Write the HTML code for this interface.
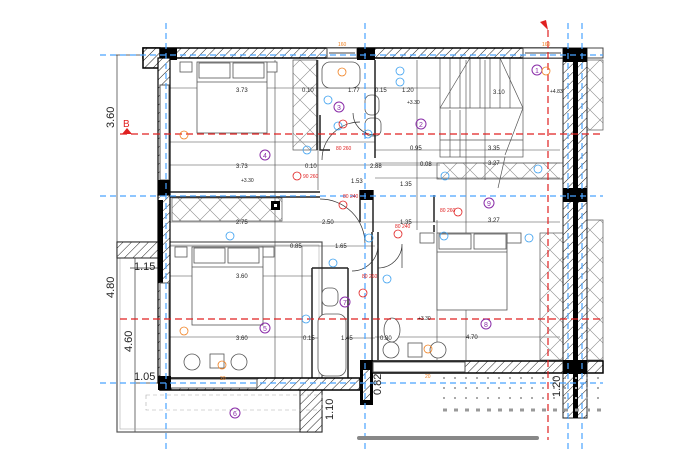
<!DOCTYPE html>
<html><head><meta charset="utf-8"><style>
html,body{margin:0;padding:0;background:#fff;}
svg{display:block;font-family:"Liberation Sans",sans-serif;}
</style></head><body>
<svg width="700" height="467" viewBox="0 0 700 467" xmlns="http://www.w3.org/2000/svg">
<defs>
<pattern id="h" width="6" height="6" patternUnits="userSpaceOnUse" patternTransform="rotate(45)">
<rect width="6" height="6" fill="#fff"/><line x1="0" y1="0" x2="0" y2="6" stroke="#222" stroke-width="1"/></pattern>
<pattern id="x" width="20" height="20" patternUnits="userSpaceOnUse">
<path d="M0 0L20 20M20 0L0 20" stroke="#888" stroke-width="0.6"/></pattern>
</defs>
<rect width="700" height="467" fill="#fff"/>
<!-- outer dims left -->
<g stroke="#333" stroke-width="0.7" fill="none">
<line x1="117" y1="55" x2="117" y2="196"/>
<line x1="117" y1="196" x2="117" y2="383"/>
<line x1="135" y1="258" x2="135" y2="432"/>
<line x1="110" y1="55" x2="160" y2="55"/>
<line x1="130" y1="268" x2="160" y2="268"/>
<line x1="130" y1="383" x2="160" y2="383"/>
</g>
<!-- left balcony -->
<rect x="117" y="242" width="205" height="190" fill="none" stroke="#555" stroke-width="1.2"/>
<rect x="120" y="245" width="199" height="184" fill="none" stroke="#aaa" stroke-width="0.6"/>
<rect x="117" y="242" width="45" height="16" fill="url(#h)" stroke="#222"/>
<rect x="300" y="385" width="22" height="47" fill="url(#h)" stroke="#222"/>
<rect x="146" y="395" width="176" height="15" fill="none" stroke="#aaa" stroke-dasharray="4 3" stroke-width="0.6"/>
<!-- interior grid lines -->
<g stroke="#444" stroke-width="0.6">
<line x1="170" y1="88" x2="440" y2="88"/>
<line x1="170" y1="165" x2="440" y2="165"/>
<line x1="170" y1="142" x2="375" y2="142"/>
<line x1="375" y1="150" x2="560" y2="150"/>
<line x1="375" y1="163" x2="560" y2="163"/>
<line x1="170" y1="222" x2="560" y2="222"/>
<line x1="170" y1="246" x2="375" y2="246"/>
<line x1="170" y1="276" x2="312" y2="276"/>
<line x1="170" y1="337" x2="312" y2="337"/>
<line x1="312" y1="338" x2="375" y2="338"/>
<line x1="375" y1="337" x2="560" y2="337"/>
<line x1="375" y1="178" x2="560" y2="178"/>
<line x1="275" y1="60" x2="275" y2="380"/>
<line x1="302" y1="246" x2="302" y2="378"/>
<line x1="318" y1="60" x2="318" y2="190"/>
<line x1="417" y1="60" x2="417" y2="230"/>
<line x1="466" y1="60" x2="466" y2="360"/>
<line x1="485" y1="60" x2="485" y2="180"/>
<line x1="437" y1="220" x2="437" y2="360"/>
</g>
<!-- stairs -->
<g stroke="#555" stroke-width="0.7" fill="none">
<rect x="440" y="58" width="83" height="99"/>
<line x1="440" y1="108" x2="523" y2="108"/>
<path d="M450 58V108M460 58V108M470 58V108M480 58V108M490 58V108M500 58V108M510 58V108"/>
<path d="M440 108L470 58M523 108L500 58M523 108L505 155M505 157L498 188"/>
<path d="M440 140H523M450 110V157M460 110V157"/>
</g>
<!-- wardrobes -->
<rect x="293" y="60" width="24" height="90" fill="url(#x)" stroke="#555" stroke-width="0.7"/>
<rect x="172" y="198" width="110" height="23" fill="url(#x)" stroke="#555" stroke-width="0.7"/>
<rect x="437" y="163" width="126" height="16" fill="url(#x)" stroke="#555" stroke-width="0.7"/>
<rect x="540" y="233" width="23" height="127" fill="url(#x)" stroke="#555" stroke-width="0.7"/>
<rect x="587" y="220" width="16" height="140" fill="url(#x)" stroke="#555" stroke-width="0.7"/>
<rect x="587" y="60" width="16" height="70" fill="url(#x)" stroke="#555" stroke-width="0.7"/>
<rect x="271" y="201" width="9" height="9" fill="#000"/><rect x="274" y="204" width="3" height="3" fill="#fff"/>
<!-- beds -->
<g stroke="#555" stroke-width="0.8" fill="#fff">
<rect x="180" y="62" width="12" height="10"/><rect x="265" y="62" width="12" height="10"/>
<rect x="197" y="62" width="70" height="71"/>
<rect x="199" y="63" width="31" height="15"/><rect x="233" y="63" width="31" height="15"/>
<line x1="197" y1="82" x2="267" y2="82"/>
<rect x="175" y="247" width="12" height="10"/><rect x="262" y="247" width="12" height="10"/>
<rect x="192" y="247" width="71" height="78"/>
<rect x="194" y="248" width="31" height="15"/><rect x="228" y="248" width="31" height="15"/>
<line x1="192" y1="267" x2="263" y2="267"/>
<rect x="420" y="233" width="14" height="10"/><rect x="507" y="233" width="14" height="10"/>
<rect x="437" y="233" width="70" height="77"/>
<rect x="439" y="234" width="32" height="15"/><rect x="474" y="234" width="32" height="15"/>
<line x1="437" y1="252" x2="507" y2="252"/>
<!-- tables -->
<circle cx="192" cy="362" r="8"/><rect x="210" y="354" width="14" height="14"/><circle cx="239" cy="362" r="8"/>
<circle cx="391" cy="350" r="8"/><rect x="408" y="343" width="14" height="14"/><circle cx="438" cy="350" r="8"/>
<!-- bath 3 -->
<rect x="322" y="62" width="38" height="26" rx="8"/>
<rect x="365" y="95" width="14" height="20" rx="6"/>
<rect x="365" y="118" width="16" height="18" rx="6"/>
<!-- bath 7 -->
<rect x="318" y="314" width="28" height="62" rx="8"/>
<rect x="322" y="288" width="16" height="18" rx="6"/>
<ellipse cx="392" cy="330" rx="8" ry="12"/>
</g>
<!-- bathroom walls -->
<g stroke="#222" stroke-width="1.5" fill="none">
<path d="M317 60V150M375 60V158"/>
<path d="M312 268H348M312 268V378M348 268V378"/>
<path d="M378 232V360M372 232V360"/>
<path d="M320 115V150H330"/>
<path d="M170 192H320M170 197H320"/>
<path d="M360 190V222M373 190V232"/>
<path d="M434 195V222M434 225V232"/>
</g>
<!-- doors -->
<g stroke="#333" stroke-width="0.7" fill="none">
<path d="M322 160A38 38 0 0 1 360 122"/>
<path d="M320 199A45 45 0 0 1 365 244"/>
<path d="M378 268A24 24 0 0 0 402 244V268"/>
<path d="M378 245A26 26 0 0 1 352 271"/>
<path d="M375 135A22 22 0 0 1 353 113"/>
</g>
<!-- walls -->
<rect x="143" y="48" width="425" height="10" fill="url(#h)" stroke="#000" stroke-width="1.5"/>
<rect x="327" y="48" width="30" height="10" fill="#fff" stroke="#444"/>
<rect x="523" y="48" width="40" height="10" fill="#fff" stroke="#444"/>
<rect x="587" y="48" width="16" height="10" fill="#fff" stroke="#444"/>
<line x1="329" y1="53" x2="355" y2="53" stroke="#444"/><line x1="525" y1="53" x2="561" y2="53" stroke="#444"/>
<rect x="160" y="48" width="17" height="12" fill="#000"/>
<rect x="357" y="48" width="18" height="12" fill="#000"/>
<rect x="143" y="48" width="17" height="20" fill="url(#h)" stroke="#000" stroke-width="1.5"/>
<rect x="158" y="58" width="12" height="137" fill="url(#h)" stroke="#000" stroke-width="1.2"/>
<rect x="160" y="85" width="9" height="95" fill="#fff" stroke="#555"/>
<rect x="158" y="180" width="12" height="20" fill="#000"/>
<rect x="158" y="195" width="12" height="188" fill="url(#h)" stroke="#000" stroke-width="1.2"/>
<rect x="158" y="200" width="5" height="83" fill="#000"/>
<rect x="160" y="283" width="9" height="95" fill="#fff" stroke="#555"/>
<rect x="160" y="378" width="200" height="12" fill="url(#h)" stroke="#000" stroke-width="1.5"/>
<rect x="170" y="379" width="87" height="9" fill="#fff" stroke="#555"/>
<rect x="158" y="376" width="13" height="14" fill="#000"/>
<rect x="360" y="360" width="13" height="45" fill="#000"/>
<rect x="363" y="370" width="7" height="30" fill="url(#h)"/>
<rect x="373" y="361" width="230" height="12" fill="url(#h)" stroke="#000" stroke-width="1.5"/>
<rect x="373" y="362" width="92" height="10" fill="#fff" stroke="#555"/>
<rect x="563" y="48" width="24" height="370" fill="url(#h)" stroke="#222"/>
<rect x="573" y="48" width="5" height="370" fill="#000"/>
<rect x="563" y="48" width="24" height="14" fill="#000"/>
<rect x="563" y="188" width="24" height="14" fill="#000"/>
<rect x="563" y="360" width="24" height="14" fill="#000"/>
<rect x="360" y="190" width="13" height="10" fill="#000"/>
<!-- balcony railings right -->
<g fill="#bbb">
<rect x="442" y="378" width="160" height="3" fill="none"/>
</g>
<g stroke="#aaa" stroke-width="2" stroke-dasharray="2 9">
<line x1="443" y1="378" x2="603" y2="378"/>
<line x1="443" y1="388" x2="603" y2="388"/>
<line x1="443" y1="398" x2="603" y2="398"/>
</g>
<g stroke="#999" stroke-width="3" stroke-dasharray="4 7">
<line x1="443" y1="410" x2="603" y2="410"/>
</g>
<!-- axis lines -->
<g stroke="#4aa3ff" stroke-width="1.2" stroke-dasharray="6 4" fill="none">
<line x1="100" y1="55" x2="603" y2="55"/>
<line x1="100" y1="196" x2="603" y2="196"/>
<line x1="100" y1="383" x2="603" y2="383"/>
<line x1="166" y1="23" x2="166" y2="450"/>
<line x1="365" y1="23" x2="365" y2="450"/>
<line x1="568" y1="23" x2="568" y2="450"/>
<line x1="582" y1="23" x2="582" y2="450"/>
</g>
<g stroke="#e02020" stroke-width="1.2" stroke-dasharray="7 4" fill="none">
<line x1="120" y1="134" x2="603" y2="134"/>
<line x1="120" y1="319" x2="603" y2="319"/>
<line x1="548" y1="30" x2="548" y2="440"/>
</g>
<path d="M122 134L127 128L132 134Z" fill="#e02020"/>
<text x="123" y="127" font-size="10" fill="#e02020">B</text>
<path d="M540 22L546 20L548 30Z" fill="#e02020"/>
<!-- dimension texts -->
<g font-size="6" fill="#222">
<text x="236" y="92">3.73</text><text x="236" y="168">3.73</text>
<text x="236" y="224">2.75</text><text x="236" y="278">3.60</text><text x="236" y="340">3.60</text>
<text x="322" y="224">2.50</text><text x="290" y="248">0.85</text><text x="335" y="248">1.65</text>
<text x="302" y="92">0.10</text><text x="348" y="92">1.77</text><text x="375" y="92">0.15</text><text x="402" y="92">1.20</text>
<text x="305" y="168">0.10</text><text x="370" y="168">2.88</text><text x="410" y="150">0.95</text>
<text x="493" y="94">3.10</text><text x="488" y="150">3.35</text><text x="488" y="165">3.27</text><text x="488" y="222">3.27</text>
<text x="400" y="186">1.35</text><text x="400" y="224">1.35</text><text x="420" y="166">0.08</text>
<text x="303" y="340">0.15</text><text x="341" y="340">1.45</text><text x="380" y="340">0.80</text>
<text x="466" y="339">4.70</text><text x="351" y="183">1.53</text>
</g>
<g font-size="11" fill="#222">
<text transform="translate(114 128) rotate(-90)">3.60</text>
<text transform="translate(114 298) rotate(-90)">4.80</text>
<text transform="translate(132 352) rotate(-90)">4.60</text>
<text x="134" y="270">1.15</text><text x="134" y="380">1.05</text>
<text transform="translate(333 420) rotate(-90)">1.10</text>
<text transform="translate(381 395) rotate(-90)">0.82</text>
<text transform="translate(560 397) rotate(-90)">1.20</text>
</g>
<!-- room numbers -->
<g fill="none" stroke="#8a2da8" stroke-width="1"><circle cx="537" cy="70" r="5"/><circle cx="421" cy="124" r="5"/><circle cx="339" cy="107" r="5"/><circle cx="265" cy="155" r="5"/><circle cx="265" cy="328" r="5"/><circle cx="235" cy="413" r="5"/><circle cx="345" cy="302" r="5"/><circle cx="486" cy="324" r="5"/><circle cx="489" cy="203" r="5"/></g>
<g font-size="7" fill="#8a2da8" text-anchor="middle"><text x="537" y="73">1</text><text x="421" y="127">2</text><text x="339" y="110">3</text><text x="265" y="158">4</text><text x="265" y="331">5</text><text x="235" y="416">6</text><text x="345" y="305">7</text><text x="486" y="327">8</text><text x="489" y="206">9</text></g>
<!-- tags -->
<g fill="none" stroke="#3ca0f0" stroke-width="0.8"><circle cx="328" cy="100" r="4"/><circle cx="338" cy="126" r="4"/><circle cx="307" cy="150" r="4"/><circle cx="368" cy="134" r="4"/><circle cx="400" cy="82" r="4"/><circle cx="230" cy="236" r="4"/><circle cx="333" cy="263" r="4"/><circle cx="369" cy="238" r="4"/><circle cx="387" cy="279" r="4"/><circle cx="306" cy="319" r="4"/><circle cx="444" cy="236" r="4"/><circle cx="529" cy="238" r="4"/><circle cx="538" cy="169" r="4"/><circle cx="445" cy="176" r="4"/><circle cx="400" cy="71" r="4"/></g>
<g fill="none" stroke="#e02020" stroke-width="0.8"><circle cx="297" cy="176" r="4"/><circle cx="343" cy="124" r="4"/><circle cx="343" cy="205" r="4"/><circle cx="458" cy="212" r="4"/><circle cx="398" cy="234" r="4"/><circle cx="363" cy="293" r="4"/></g>
<g fill="none" stroke="#f08020" stroke-width="0.8"><circle cx="342" cy="72" r="4"/><circle cx="184" cy="135" r="4"/><circle cx="184" cy="331" r="4"/><circle cx="222" cy="365" r="4"/><circle cx="428" cy="349" r="4"/><circle cx="546" cy="71" r="4"/></g>
<g font-size="5" fill="#e02020"><text x="303" y="178">90 260</text><text x="336" y="150">80 260</text><text x="343" y="198">80 240</text><text x="440" y="212">80 260</text><text x="395" y="228">80 240</text><text x="362" y="278">80 260</text></g>
<g font-size="5" fill="#f08020"><text x="338" y="46">160</text><text x="542" y="46">160</text><text x="220" y="380">20</text><text x="425" y="378">20</text></g>
<g font-size="5" fill="#222"><text x="241" y="182">+3.30</text><text x="407" y="104">+3.30</text><text x="550" y="93">+4.83</text><text x="418" y="320">+3.30</text></g>
<!-- scrollbar -->
<rect x="357" y="436" width="182" height="4" rx="2" fill="#888"/>
</svg>
</body></html>
